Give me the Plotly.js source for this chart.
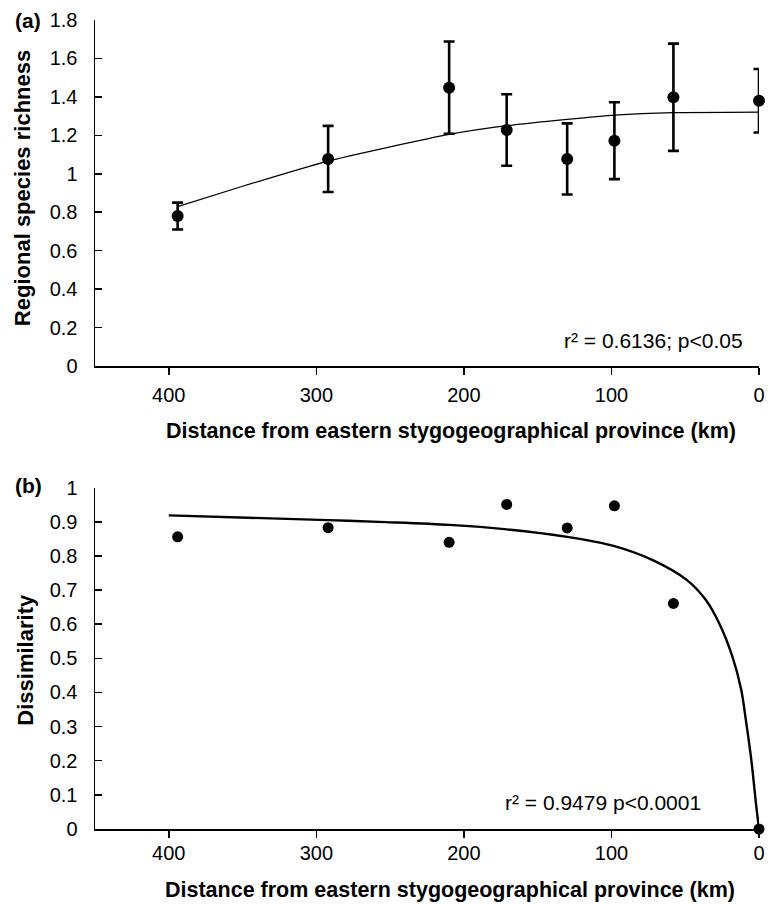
<!DOCTYPE html>
<html>
<head>
<meta charset="utf-8">
<script src="https://cdn.plot.ly/plotly-3.0.1.min.js"></script>
<style>html,body{margin:0;padding:0;background:#fff;}#chart{width:772px;height:904px;}</style>
</head>
<body>
<div id="chart"></div>
<script>
// Distances (km) from the eastern stygogeographical province
const distances = [394, 292, 210, 171, 130, 98, 58, 0];
// Panel (a): regional species richness and error bars
const richness = [0.78, 1.077, 1.448, 1.228, 1.077, 1.172, 1.398, 1.38];
const richnessErr = [0.07, 0.172, 0.24, 0.186, 0.185, 0.2, 0.279, 0.165];
// Panel (a) fitted curve
const fitAx = [394, 350, 292, 253, 210, 171, 130, 98, 58, 0];
const fitAy = [0.829, 0.935, 1.066, 1.135, 1.205, 1.250, 1.283, 1.305, 1.318, 1.321];
// Panel (b): dissimilarity
const dissimilarity = [0.856, 0.883, 0.840, 0.951, 0.882, 0.947, 0.661, 0];
// Panel (b) fitted curve
const fitBx = [400, 292, 253, 210, 171, 130, 98, 72, 49, 36, 27, 18, 12, 8.6, 5.2, 1.8, 0];
const fitBy = [0.919, 0.905, 0.899, 0.891, 0.878, 0.856, 0.829, 0.788, 0.730, 0.671, 0.603, 0.505, 0.407, 0.310, 0.202, 0.065, 0];
// Tick values
const xTicks = [400, 300, 200, 100, 0];
const yTicksA = [0, 0.2, 0.4, 0.6, 0.8, 1, 1.2, 1.4, 1.6, 1.8];
const yTicksB = [0, 0.1, 0.2, 0.3, 0.4, 0.5, 0.6, 0.7, 0.8, 0.9, 1];

const FONT = 'Liberation Sans, Arial, sans-serif';

const traces = [
  {x: fitAx, y: fitAy, xaxis: 'x', yaxis: 'y', mode: 'lines', type: 'scatter',
   line: {color: '#000', width: 1.2, shape: 'spline', smoothing: 0.5}, hoverinfo: 'skip', showlegend: false},
  {x: distances, y: richness, xaxis: 'x', yaxis: 'y', mode: 'markers', type: 'scatter',
   marker: {color: '#000', size: 12},
   error_y: {type: 'data', array: richnessErr, visible: true, color: '#000', thickness: 2.6, width: 5.5},
   cliponaxis: false, showlegend: false},
  {x: fitBx, y: fitBy, xaxis: 'x2', yaxis: 'y2', mode: 'lines', type: 'scatter',
   line: {color: '#000', width: 2.4, shape: 'spline', smoothing: 0.8}, cliponaxis: false, hoverinfo: 'skip', showlegend: false},
  {x: distances, y: dissimilarity, xaxis: 'x2', yaxis: 'y2', mode: 'markers', type: 'scatter',
   marker: {color: '#000', size: 11}, cliponaxis: false, showlegend: false}
];

const xCommon = {
  range: [450, 0], tickmode: 'array', tickvals: xTicks, ticks: 'outside', ticklen: 7, tickwidth: 1.5,
  tickcolor: '#000', showline: true, linecolor: '#000', linewidth: 1.5, showgrid: false, zeroline: false,
  tickfont: {family: FONT, size: 20, color: '#000'}, fixedrange: true
};
const yCommon = {
  ticks: 'inside', ticklen: 7, tickwidth: 1.5, tickcolor: '#000', showline: true, linecolor: '#000',
  linewidth: 1.5, showgrid: false, zeroline: false, tickmode: 'array',
  tickfont: {family: FONT, size: 20, color: '#000'}, ticklabelstandoff: 12, fixedrange: true
};

const W0 = 95.3, W1 = 758.7, T = 20, B = 829, H = 904;
const px = v => (v - W0) / (W1 - W0);
const py = v => (B - v) / (B - T);

const ann = (x, y, text, opts) => Object.assign({
  xref: 'paper', yref: 'paper', x: px(x), y: py(y), text: text, showarrow: false,
  xanchor: 'center', yanchor: 'middle', font: {family: FONT, size: 21, color: '#000'}
}, opts || {});

const layout = {
  width: 772, height: H,
  margin: {l: W0, r: 772 - W1, t: T, b: H - B, pad: 0},
  paper_bgcolor: '#fff', plot_bgcolor: '#fff', showlegend: false,
  xaxis: Object.assign({}, xCommon, {anchor: 'y', ticklabelstandoff: 3}),
  yaxis: Object.assign({}, yCommon, {domain: [py(366), 1], range: [0, 1.8], tickvals: yTicksA, anchor: 'x'}),
  xaxis2: Object.assign({}, xCommon, {anchor: 'y2', ticklabelstandoff: -2}),
  yaxis2: Object.assign({}, yCommon, {domain: [0, py(487.7)], range: [0, 1], tickvals: yTicksB, anchor: 'x2'}),
  annotations: [
    ann(28.5, 20, '<b>(a)</b>', {font: {family: FONT, size: 21, color: '#000'}}),
    ann(29, 485, '<b>(b)</b>', {font: {family: FONT, size: 21, color: '#000'}}),
    ann(23, 188.5, '<b>Regional species richness</b>', {textangle: -90, font: {family: FONT, size: 22, color: '#000'}}),
    ann(25, 660, '<b>Dissimilarity</b>', {textangle: -90, font: {family: FONT, size: 22, color: '#000'}}),
    ann(451, 431, '<b>Distance from eastern stygogeographical province (km)</b>', {font: {family: FONT, size: 21.5, color: '#000'}}),
    ann(450, 890, '<b>Distance from eastern stygogeographical province (km)</b>', {font: {family: FONT, size: 21.5, color: '#000'}}),
    ann(653.5, 340, 'r² = 0.6136; p<0.05'),
    ann(602.7, 802.7, 'r² = 0.9479 p<0.0001')
  ]
};

Plotly.newPlot('chart', traces, layout, {displayModeBar: false, staticPlot: true});
</script>
</body>
</html>
